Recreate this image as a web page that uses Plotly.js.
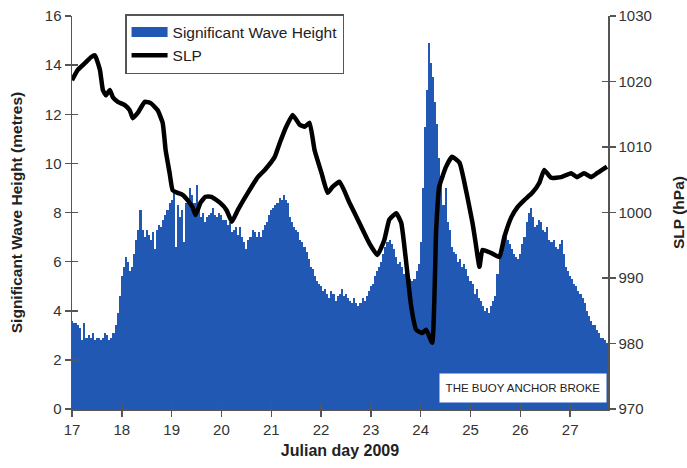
<!DOCTYPE html>
<html>
<head>
<meta charset="utf-8">
<script src="https://cdn.plot.ly/plotly-3.0.1.min.js"></script>
<style>html,body{margin:0;padding:0;background:#fff;}#chart{width:687px;height:468px;}</style>
</head>
<body>
<div id="chart"></div>
<script>
// Hourly significant wave height (m), starting at Julian day 17.0
const waveStartDay = 17;
const waveHoursPerDay = 24;
const waveHeight = [
  // day 17
  3.6,3.5,3.5,3.4,3.3,2.8,3.5,2.9,3.0,2.9,3.1,2.8,2.9,2.9,2.8,2.9,3.1,3.0,2.8,2.9,3.1,3.4,3.9,4.6,
  // day 18
  5.4,5.8,6.2,6.0,5.6,5.8,6.3,6.9,7.3,8.1,7.3,7.0,7.3,7.1,6.9,7.2,6.5,7.3,7.5,7.4,7.7,7.9,8.1,8.4,
  // day 19
  8.5,8.8,6.6,8.3,7.8,8.1,6.8,8.4,8.6,9.0,8.7,8.4,9.1,8.3,7.8,8.0,7.6,7.8,7.9,8.0,8.2,7.9,7.8,8.0,
  // day 20
  7.9,7.7,7.7,7.5,7.6,7.2,7.3,7.4,7.1,7.4,7.0,6.8,6.5,6.9,7.0,7.3,7.2,7.0,7.2,7.0,7.3,7.5,7.6,7.9,
  // day 21
  8.1,8.2,8.3,8.4,8.6,8.5,8.7,8.5,8.4,7.8,7.6,7.4,7.3,7.2,6.9,6.8,6.6,6.4,6.1,5.8,5.7,5.4,5.2,5.1,
  // day 22
  5.0,4.8,4.9,4.7,4.5,4.8,4.7,4.4,4.6,4.7,4.9,4.6,4.7,4.5,4.4,4.3,4.5,4.3,4.2,4.3,4.5,4.4,4.6,4.8,
  // day 23
  5.0,5.1,5.4,5.6,5.8,6.0,6.3,6.6,6.8,6.9,6.7,6.5,6.2,5.9,6.0,5.8,5.5,5.6,5.4,5.3,5.2,5.3,5.6,5.9,
  // day 24
  6.8,9.0,11.5,13.0,14.9,14.1,13.5,12.5,11.6,10.2,9.5,8.3,9.0,7.6,7.3,6.6,6.4,6.3,6.0,6.1,5.8,5.9,5.7,5.4,
  // day 25
  5.2,5.1,4.7,4.9,4.5,4.4,4.2,4.0,4.1,3.9,4.2,4.4,4.6,5.5,6.2,6.6,6.8,7.0,6.9,6.7,6.5,6.3,6.2,6.1,
  // day 26
  6.3,6.7,7.0,7.6,8.0,8.2,7.8,7.4,7.5,7.7,7.6,7.3,7.2,7.4,6.9,6.8,6.9,6.6,6.5,6.7,6.9,6.3,5.8,5.6,
  // day 27
  5.4,5.3,5.1,5.0,4.8,4.7,4.5,4.3,4.0,3.8,3.6,3.4,3.4,3.2,3.1,2.9,2.9,2.8,2.7
];

// Sea level pressure (hPa) read at these Julian days
const slpDays = [
  17.00,17.12,17.26,17.38,17.46,17.56,17.62,17.68,17.76,17.82,17.92,18.06,18.16,18.22,18.32,18.46,18.58,18.72,18.82,18.88,18.96,
  19.02,19.12,19.22,19.32,19.42,19.48,19.58,19.68,19.80,19.97,20.10,20.21,20.33,20.53,20.73,20.87,21.07,21.17,21.30,21.43,21.57,
  21.67,21.77,21.87,22.01,22.13,22.23,22.37,22.57,22.77,22.97,23.13,23.27,23.37,23.51,23.61,23.71,23.81,23.91,24.03,24.11,24.23,
  24.31,24.37,24.51,24.63,24.78,24.92,25.04,25.10,25.18,25.24,25.42,25.58,25.68,25.82,25.94,26.08,26.24,26.38,26.48,26.62,26.82,
  27.02,27.14,27.28,27.42,27.54,27.64,27.74
];
const slpValues = [
  1020.2,1021.8,1022.8,1023.7,1024.0,1021.8,1018.7,1017.9,1018.7,1017.6,1016.9,1016.4,1015.6,1014.4,1015.2,1016.9,1016.7,1015.6,1013.7,1009.5,1006.0,
  1003.4,1003.0,1002.7,1001.9,1000.8,999.6,1001.5,1002.4,1002.4,1001.5,1000.4,998.6,1000.4,1003.0,1005.4,1006.5,1008.5,1010.6,1013.1,1014.9,1013.4,
  1013.1,1013.7,1009.5,1006.0,1003.0,1003.9,1004.7,1001.5,998.4,995.3,993.5,995.8,998.9,999.9,998.4,992.3,985.6,982.1,981.6,982.1,980.1,
  997.3,1003.9,1007.0,1008.5,1007.6,1003.0,998.4,995.5,991.7,994.3,993.8,993.2,996.3,999.3,1000.8,1001.9,1003.0,1004.5,1006.5,1005.3,1005.4,
  1006.0,1005.4,1006.0,1005.4,1006.0,1006.5,1007.0
];

const xTicks = [17,18,19,20,21,22,23,24,25,26,27];
const waveTicks = [0,2,4,6,8,10,12,14,16];
const slpTicks = [970,980,990,1000,1010,1020,1030];
const xRange = [17, 27.76];
const waveRange = [0, 16];
const slpRange = [970, 1030];

const waveDays = waveHeight.map((_, i) => waveStartDay + i / waveHoursPerDay);

const waveColor = '#2158b4';
const axisCol = '#555555';
const fam = 'Liberation Sans, Arial, sans-serif';
const tickFont = {family: fam, size: 15, color: '#333333'};
const titleFont = {family: fam, size: 15.5, color: '#222222', weight: 'bold'};

const traces = [
  // legend entry for the bars (wide blue swatch)
  {
    type: 'scatter', mode: 'lines', name: 'Significant Wave Height',
    x: [null], y: [null],
    line: {color: waveColor, width: 10},
    xaxis: 'x', yaxis: 'y', hoverinfo: 'skip'
  },
  {
    type: 'bar', name: 'Significant Wave Height', showlegend: false,
    x: waveDays, y: waveHeight,
    width: 1 / waveHoursPerDay,
    marker: {color: waveColor, line: {width: 0}},
    xaxis: 'x', yaxis: 'y'
  },
  {
    type: 'scatter', mode: 'lines', name: 'SLP',
    x: slpDays, y: slpValues,
    line: {color: '#000000', width: 4.5, shape: 'spline', smoothing: 0.4},
    xaxis: 'x', yaxis: 'y2'
  },
  // carriers for inner tick halves
  {type: 'scatter', mode: 'lines', x: [null], y: [null], xaxis: 'x2', yaxis: 'y3', showlegend: false, hoverinfo: 'skip'},
  {type: 'scatter', mode: 'lines', x: [null], y: [null], xaxis: 'x2', yaxis: 'y4', showlegend: false, hoverinfo: 'skip'}
];

const tickCommon = {tickcolor: axisCol, tickwidth: 1.5, ticklen: 6, showgrid: false, zeroline: false};

const layout = {
  width: 687, height: 468,
  margin: {l: 72, r: 79, t: 16, b: 59},
  paper_bgcolor: '#ffffff', plot_bgcolor: 'rgba(0,0,0,0)',
  bargap: 0,
  showlegend: true,
  legend: {
    x: 0.099, y: 1.005, xanchor: 'left', yanchor: 'top',
    bgcolor: '#ffffff', bordercolor: '#555555', borderwidth: 1.5,
    font: {family: fam, size: 15.5, color: '#222222'},
    tracegroupgap: 0, itemwidth: 36
  },
  xaxis: Object.assign({
    range: xRange,
    tickvals: xTicks, ticktext: xTicks.map(String),
    ticks: 'outside',
    showline: true, linecolor: axisCol, linewidth: 1.5,
    tickfont: tickFont,
    title: {text: 'Julian day 2009', font: Object.assign({}, titleFont, {size: 16}), standoff: 8}
  }, tickCommon),
  xaxis2: Object.assign({
    range: xRange, overlaying: 'x', anchor: 'y3', side: 'bottom',
    tickvals: xTicks, ticks: 'inside', showticklabels: false, showline: false
  }, tickCommon),
  yaxis: Object.assign({
    range: waveRange,
    tickvals: waveTicks,
    ticks: 'outside',
    showline: true, linecolor: axisCol, linewidth: 1.5,
    tickfont: tickFont,
    title: {text: 'Significant Wave Height (metres)', font: titleFont, standoff: 18}
  }, tickCommon),
  yaxis2: Object.assign({
    range: slpRange,
    tickvals: slpTicks,
    overlaying: 'y', side: 'right',
    ticks: 'outside',
    showline: true, linecolor: axisCol, linewidth: 1.5,
    tickfont: tickFont,
    title: {text: 'SLP (hPa)', font: titleFont, standoff: 22}
  }, tickCommon),
  yaxis3: Object.assign({
    range: waveRange, tickvals: waveTicks, overlaying: 'y', side: 'left', anchor: 'x2',
    ticks: 'inside', showticklabels: false, showline: false
  }, tickCommon),
  yaxis4: Object.assign({
    range: slpRange, tickvals: slpTicks, overlaying: 'y', side: 'right', anchor: 'x2',
    ticks: 'inside', showticklabels: false, showline: false
  }, tickCommon),
  annotations: [{
    xref: 'x', yref: 'y', x: 26.06, y: 0.855,
    text: 'THE BUOY ANCHOR BROKE', showarrow: false,
    bgcolor: '#ffffff', borderpad: 2, width: 162, height: 24,
    font: {family: fam, size: 11.5, color: '#222222'}
  }]
};

Plotly.newPlot('chart', traces, layout, {displayModeBar: false, staticPlot: true});
</script>
</body>
</html>
